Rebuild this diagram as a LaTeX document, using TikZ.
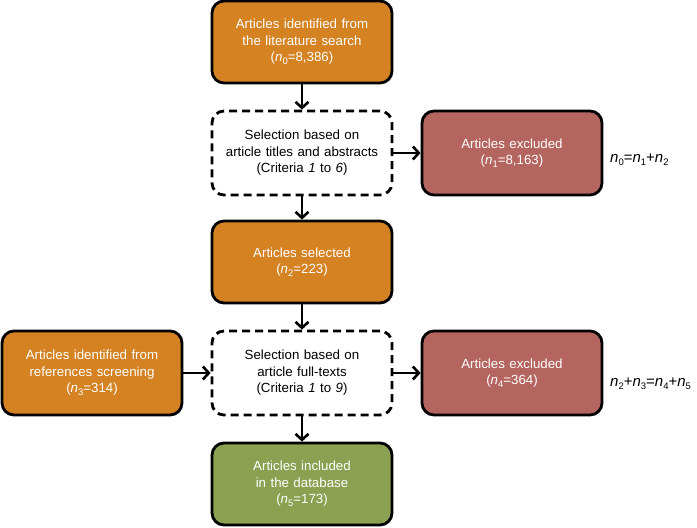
\documentclass[tikz,border=0pt]{standalone}
\usepackage{fontspec}
\setmainfont{Liberation Sans}
\usetikzlibrary{arrows.meta}
\definecolor{orangebox}{RGB}{212,130,34}
\definecolor{redbox}{RGB}{181,101,96}
\definecolor{greenbox}{RGB}{139,160,80}
\newcommand{\nsub}[1]{\textit{n}\raisebox{-0.35ex}{\fontsize{9.5}{10}\selectfont #1}}
\tikzset{
  box/.style={draw=black, line width=2.8pt, rounded corners=12pt, minimum width=180pt, minimum height=82pt, align=center, text width=172pt, font=\fontsize{13.3}{16.5}\selectfont, inner sep=0pt},
  obox/.style={box, fill=orangebox, text=white},
  rbox/.style={box, fill=redbox, text=white},
  gbox/.style={box, fill=greenbox, text=white},
  dbox/.style={box, dash pattern=on 8pt off 5pt, fill=white, text=black},
  arr/.style={line width=2.6pt, -{Straight Barb[length=6pt,width=13pt,line width=2.6pt]}},
  formula/.style={anchor=west, font=\fontsize{15}{17}\selectfont, inner sep=0pt}
}
\begin{document}
\begin{tikzpicture}[x=1pt,y=-1pt]
\useasboundingbox (0,0) rectangle (697,528);
\node[obox] (a) at (302,42) {Articles identified from\\the literature search\\(\nsub{0}=8,386)};
\node[dbox, minimum height=84pt] (b) at (302,153) {Selection based on\\article titles and abstracts\\(Criteria \textit{1} to \textit{6})};
\node[rbox, minimum height=84pt] (c) at (512,153) {Articles excluded\\(\nsub{1}=8,163)};
\node[obox] (d) at (302,262) {Articles selected\\(\nsub{2}=223)};
\node[dbox, minimum height=84pt] (e) at (302,373) {Selection based on\\article full-texts\\(Criteria \textit{1} to \textit{9})};
\node[obox, minimum height=84pt] (f) at (92,373) {Articles identified from\\references screening\\(\nsub{3}=314)};
\node[rbox, minimum height=84pt] (g) at (512,373) {Articles excluded\\(\nsub{4}=364)};
\node[gbox] (h) at (302,484) {Articles included\\in the database\\(\nsub{5}=173)};
\node[formula] (p) at (610,160) {\nsub{0}=\nsub{1}+\nsub{2}};
\node[formula] (q) at (610,384) {\nsub{2}+\nsub{3}=\nsub{4}+\nsub{5}};
\draw[arr] (a) -- (b);
\draw[arr] (b) -- (d);
\draw[arr] (d) -- (e);
\draw[arr] (e) -- (h);
\draw[arr] (b) -- (c);
\draw[arr] (f) -- (e);
\draw[arr] (e) -- (g);
\end{tikzpicture}
\end{document}
